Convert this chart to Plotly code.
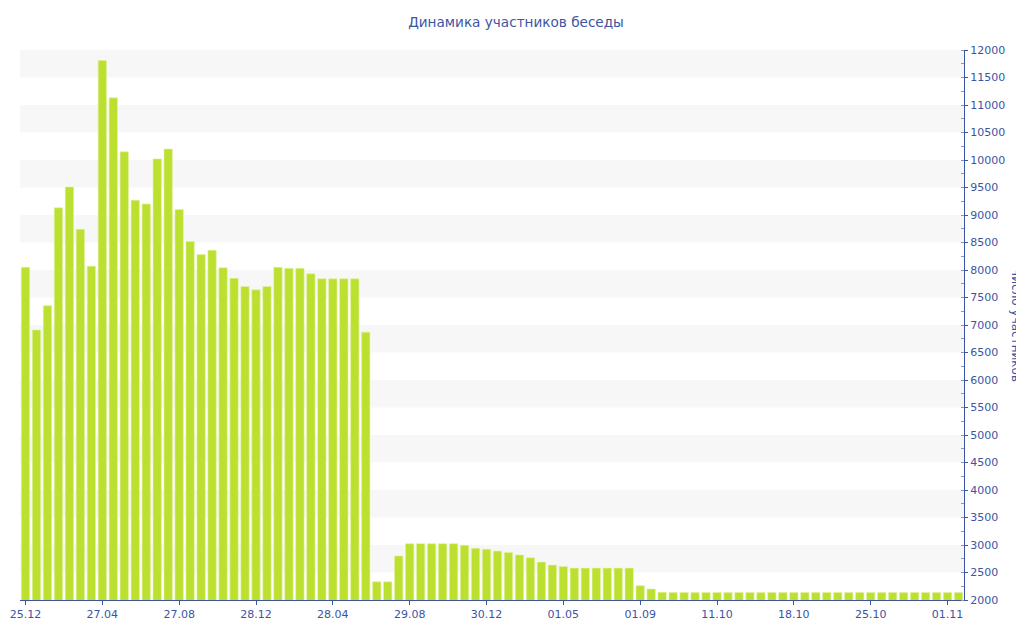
import plotly.graph_objects as go

title_text = "Динамика участников беседы"
axis_title = "Число участников"

values = [
    8050, 6910, 7350, 9130, 9510, 8740, 8070, 11810, 11130, 10150,
    9270, 9200, 10020, 10200, 9100, 8520, 8280, 8360, 8040, 7850,
    7700, 7640, 7700, 8050, 8030, 8030, 7930, 7840, 7840, 7840,
    7840, 6870, 2330, 2330, 2800, 3025, 3025, 3025, 3025, 3025,
    2995, 2940, 2925, 2890, 2865, 2820, 2770, 2690, 2635, 2610,
    2580, 2580, 2580, 2580, 2580, 2580, 2260, 2200, 2140, 2135,
    2135, 2135, 2135, 2135, 2135, 2135, 2135, 2135, 2135, 2135,
    2135, 2135, 2135, 2135, 2135, 2135, 2135, 2135, 2135, 2135,
    2135, 2135, 2135, 2135, 2135, 2135,
]
tick_labels = ["25.12", "27.04", "27.08", "28.12", "28.04", "29.08", "30.12",
               "01.05", "01.09", "11.10", "18.10", "25.10", "01.11"]
tick_every = 7

y_min, y_max, y_step = 2000, 12000, 500

x = list(range(len(values)))
tick_pos = [i * tick_every for i in range(len(tick_labels))]

BLUE = "#3b55a3"
BAR = "#bce02f"
BAND = "#f7f7f7"

fig = go.Figure()
fig.add_trace(go.Bar(
    x=x, y=values,
    marker=dict(color=BAR, line=dict(color="#e2f2a0", width=0.6)),
    hoverinfo="y",
))

shapes = []
lo = y_min + y_step
while lo < y_max:
    shapes.append(dict(type="rect", xref="paper", yref="y", x0=0, x1=1,
                       y0=lo, y1=lo + y_step, fillcolor=BAND, line_width=0,
                       layer="below"))
    lo += 2 * y_step

fig.update_layout(
    width=1016, height=632,
    margin=dict(l=12, r=60, t=42, b=40, autoexpand=False),
    paper_bgcolor="white", plot_bgcolor="white",
    font=dict(family="DejaVu Sans", color=BLUE, size=11),
    title=dict(text=title_text, x=0.5, xanchor="center", y=0.978, yanchor="middle",
               font=dict(size=13.6, color=BLUE, family="DejaVu Sans")),
    bargap=0.24,
    showlegend=False,
    shapes=shapes,
    xaxis=dict(range=[-0.5, len(values) - 0.5], tickmode="array",
               tickvals=tick_pos, ticktext=tick_labels, showgrid=False,
               showline=True, linecolor=BLUE, linewidth=1, ticks="outside",
               ticklen=4, tickcolor=BLUE, zeroline=False, automargin=False,
               tickfont=dict(size=11, color=BLUE)),
    yaxis=dict(range=[y_min, y_max], dtick=y_step, tick0=y_min, side="right",
               tickformat="d", automargin=False,
               showgrid=False, showline=True, linecolor=BLUE, linewidth=1,
               ticks="outside", ticklen=3, tickcolor=BLUE, zeroline=False,
               tickfont=dict(size=11, color=BLUE),
               minor=dict(dtick=y_step / 2, ticks="inside", ticklen=3,
                          tickcolor="#8896c4", showgrid=False)),
    annotations=[dict(text=axis_title, xref="paper", yref="paper",
                      x=1.055, y=0.5, xanchor="center", yanchor="middle",
                      textangle=90, showarrow=False,
                      font=dict(size=12, color=BLUE))],
)

fig.write_html("out.html")
